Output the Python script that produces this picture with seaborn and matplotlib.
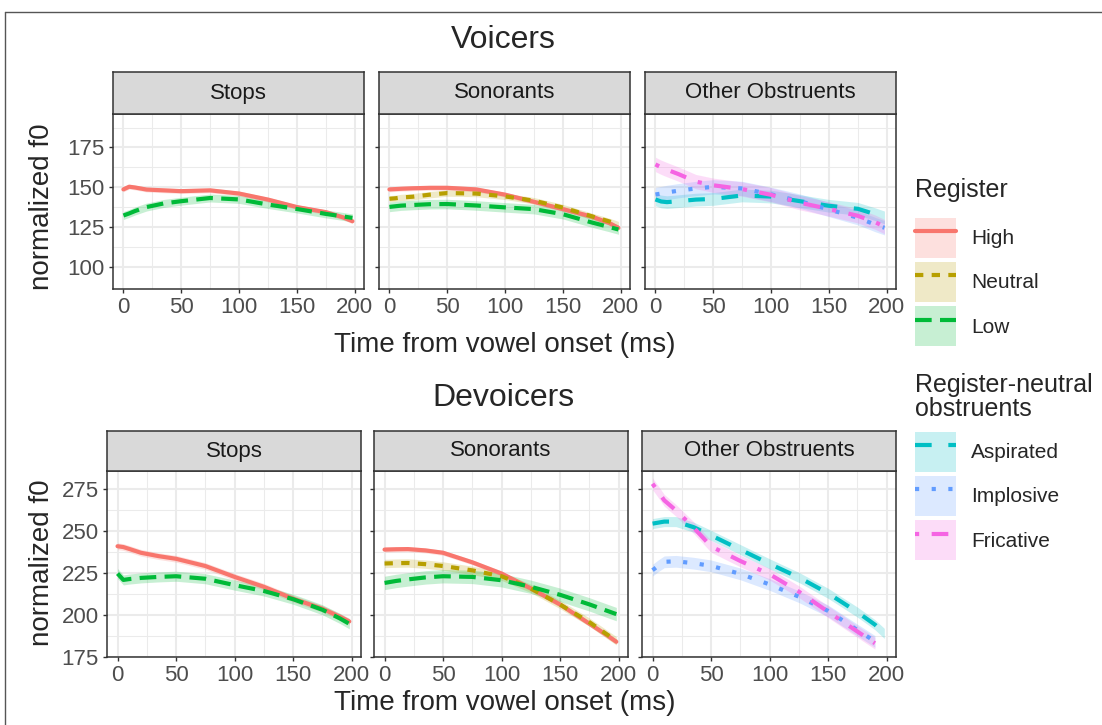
import numpy as np
import pandas as pd
import matplotlib
matplotlib.use('Agg')
import matplotlib.pyplot as plt
from matplotlib.lines import Line2D
from matplotlib.patches import Patch
import seaborn as sns

# ---- data ----
time_ms = [0, 5, 10, 20, 35, 50, 75, 100, 125, 150, 175, 190, 198]

# Voicers
voi_stops_high = [148.6, 150.3, 149.8, 148.5, 148.0, 147.5, 148.0, 146.0, 142.2, 137.5, 134.3, 131.0, 128.6]
voi_stops_low = [132.2, 133.5, 135.0, 137.5, 139.8, 141.2, 143.2, 142.3, 139.1, 136.3, 133.2, 131.6, 130.7]
voi_son_high = [148.6, 148.8, 149.0, 149.3, 149.6, 149.6, 148.6, 145.3, 140.8, 136.2, 131.5, 127.5, 124.4]
voi_son_neutral = [142.7, 143.0, 143.5, 144.0, 145.3, 146.3, 146.0, 144.2, 141.5, 137.2, 131.7, 128.5, 126.5]
voi_son_low = [137.6, 138.0, 138.4, 138.8, 139.3, 139.4, 138.5, 137.3, 136.2, 133.0, 127.8, 125.0, 123.4]
voi_obs_aspirated = [142.3, 141.0, 140.6, 141.2, 142.2, 142.6, 144.8, 144.1, 141.2, 138.3, 136.4, 133.0, 131.0]
voi_obs_implosive = [145.4, 146.0, 146.7, 147.8, 149.2, 150.2, 149.2, 145.5, 141.2, 136.0, 130.8, 126.5, 124.5]
voi_obs_fricative = [164.3, 162.5, 161.0, 158.2, 153.5, 151.2, 148.8, 145.2, 140.2, 136.3, 132.0, 128.0, 125.2]

# Devoicers
dev_stops_high = [241.1, 240.6, 239.5, 237.2, 235.2, 233.6, 229.3, 222.8, 216.9, 209.8, 203.8, 199.0, 196.2]
dev_stops_low = [224.8, 221.0, 221.5, 222.2, 222.8, 223.2, 221.7, 217.9, 214.4, 209.5, 203.2, 198.0, 194.8]
dev_son_high = [239.1, 239.2, 239.3, 239.4, 238.6, 237.2, 231.5, 224.8, 215.9, 206.3, 194.9, 188.0, 184.1]
dev_son_neutral = [230.8, 230.9, 231.0, 231.1, 230.4, 229.3, 226.7, 223.2, 215.9, 206.3, 195.8, 188.5, 184.7]
dev_son_low = [219.2, 219.8, 220.4, 221.3, 222.5, 223.2, 222.8, 220.8, 216.9, 212.1, 206.4, 202.6, 200.6]
dev_obs_aspirated = [254.6, 255.2, 255.8, 255.8, 252.5, 247.6, 239.1, 230.6, 222.5, 213.0, 201.8, 194.3, 189.1]
dev_obs_implosive = [226.8, 229.5, 231.8, 232.1, 231.0, 229.4, 224.6, 218.3, 211.0, 202.5, 191.1, 184.3, np.nan]
dev_obs_fricative = [278.4, 273.5, 268.5, 262.5, 252.3, 241.0, 232.3, 224.4, 214.0, 202.0, 190.2, 183.2, np.nan]

# ribbon half widths (same order as the series in each panel)
band_voi_stops = [1.5, 2.5]
band_voi_son = [1.5, 2.0, 3.0]
band_voi_obs = [4.0, 4.5, 4.5]
band_dev_stops = [2.0, 3.0]
band_dev_son = [1.5, 2.5, 4.0]
band_dev_obs = [3.0, 3.5, 3.5]

groups = ['Voicers', 'Devoicers']
manners = ['Stops', 'Sonorants', 'Other Obstruents']
register_levels = ['High', 'Neutral', 'Low']
obstruent_levels = ['Aspirated', 'Implosive', 'Fricative']

panels = [
    ('Voicers', 'Stops', ['High', 'Low'], [voi_stops_high, voi_stops_low], band_voi_stops),
    ('Voicers', 'Sonorants', ['High', 'Neutral', 'Low'], [voi_son_high, voi_son_neutral, voi_son_low], band_voi_son),
    ('Voicers', 'Other Obstruents', obstruent_levels, [voi_obs_aspirated, voi_obs_implosive, voi_obs_fricative], band_voi_obs),
    ('Devoicers', 'Stops', ['High', 'Low'], [dev_stops_high, dev_stops_low], band_dev_stops),
    ('Devoicers', 'Sonorants', ['High', 'Neutral', 'Low'], [dev_son_high, dev_son_neutral, dev_son_low], band_dev_son),
    ('Devoicers', 'Other Obstruents', obstruent_levels, [dev_obs_aspirated, dev_obs_implosive, dev_obs_fricative], band_dev_obs),
]

rows = []
for g, m, series, vals, bands in panels:
    for s, v, b in zip(series, vals, bands):
        for t, f in zip(time_ms, v):
            rows.append({'group': g, 'manner': m, 'series': s, 'time': t, 'f0': f, 'band': b})
df = pd.DataFrame(rows).dropna()

# ggplot default hue palette for 6 levels
colors = {'High': '#F8766D', 'Neutral': '#B79F00', 'Low': '#00BA38',
          'Aspirated': '#00BFC4', 'Implosive': '#619CFF', 'Fricative': '#F564E3'}
dash_map = {'High': '', 'Neutral': (2, 2), 'Low': (4, 2),
            'Aspirated': (4, 4), 'Implosive': (1, 3), 'Fricative': (1, 3, 4, 3)}

sns.set_style('white')
plt.rcParams['font.family'] = ['Liberation Sans', 'DejaVu Sans']

W, H = 1102, 725
fig = plt.figure(figsize=(W / 100, H / 100), dpi=100)


def px_rect(x0, y0, x1, y1):
    return [x0 / W, 1 - y1 / H, (x1 - x0) / W, (y1 - y0) / H]


LW = 3.0
ALPHA = 0.22
GRID = '#EBEBEB'
DARK = '#333333'

layout = {
    'Voicers': dict(xs=[113, 379, 645], w=251, top=114, bottom=289, strip_top=72,
                    ylim=(86, 196), yticks=[100, 125, 150, 175], yminor=[112.5, 137.5, 162.5, 187.5],
                    title_y=40, xlab_y=345, ylab_y=207),
    'Devoicers': dict(xs=[107, 374, 642], w=254, top=471, bottom=657, strip_top=431,
                      ylim=(175, 286), yticks=[175, 200, 225, 250, 275], yminor=[187.5, 212.5, 237.5, 262.5],
                      title_y=398, xlab_y=703, ylab_y=563),
}

for g in groups:
    L = layout[g]
    for j, m in enumerate(manners):
        x0 = L['xs'][j]
        ax = fig.add_axes(px_rect(x0, L['top'], x0 + L['w'], L['bottom']))
        sub = df[(df['group'] == g) & (df['manner'] == m)]

        # confidence ribbons
        for s, d in sub.groupby('series', sort=False):
            ax.fill_between(d['time'], d['f0'] - d['band'], d['f0'] + d['band'],
                            color=colors[s], alpha=ALPHA, lw=0, zorder=2)
        sns.lineplot(data=sub, x='time', y='f0', hue='series', style='series',
                     palette=colors, dashes=dash_map, linewidth=LW, estimator=None,
                     sort=False, legend=False, ax=ax, zorder=3)

        ax.set_xlim(-9, 208)
        ax.set_ylim(*L['ylim'])
        ax.set_xticks([0, 50, 100, 150, 200])
        ax.set_xticks([25, 75, 125, 175], minor=True)
        ax.set_yticks(L['yticks'])
        ax.set_yticks(L['yminor'], minor=True)
        ax.grid(which='major', color=GRID, lw=1.5, zorder=0)
        ax.grid(which='minor', color=GRID, lw=0.75, zorder=0)
        ax.set_axisbelow(True)
        ax.set_xlabel('')
        ax.set_ylabel('')
        ax.tick_params(which='major', length=3, width=1, color=DARK, labelcolor='#4D4D4D',
                       labelsize=16, pad=3, bottom=True, left=True)
        ax.tick_params(which='minor', length=0)
        if j > 0:
            ax.tick_params(axis='y', labelleft=False)
        for sp in ax.spines.values():
            sp.set_color(DARK)
            sp.set_linewidth(1.1)

        # facet strip
        sax = fig.add_axes(px_rect(x0, L['strip_top'], x0 + L['w'], L['top']))
        sax.set_facecolor('#D9D9D9')
        sax.set_xticks([])
        sax.set_yticks([])
        for sp in sax.spines.values():
            sp.set_color(DARK)
            sp.set_linewidth(1.1)
        sax.text(0.5, 0.5, m, ha='center', va='center', fontsize=16, color='#1A1A1A',
                 transform=sax.transAxes)

    fig.text(503 / W, 1 - L['title_y'] / H, g, ha='center', va='center', fontsize=23)
    fig.text(505 / W, 1 - L['xlab_y'] / H, 'Time from vowel onset (ms)', ha='center',
             va='center', fontsize=20)
    fig.text(42 / W, 1 - L['ylab_y'] / H, 'normalized f0', ha='center', va='center',
             rotation=90, fontsize=20)


# legends: filled key with the line drawn on top
def key(s):
    p = Patch(facecolor=colors[s], alpha=ALPHA, edgecolor='none')
    if dash_map[s] == '':
        ln = Line2D([], [], color=colors[s], lw=LW, ls='-')
    else:
        ln = Line2D([], [], color=colors[s], lw=LW, dashes=dash_map[s])
    return (p, ln)


leg_kw = dict(loc='upper left', frameon=False, fontsize=15,
              handlelength=1.97, handleheight=2.55, labelspacing=0.22,
              handletextpad=0.72, borderpad=0, borderaxespad=0)
leg1 = fig.legend([key(s) for s in register_levels], register_levels,
                  bbox_to_anchor=(915 / W, 1 - 218 / H), **leg_kw)
leg2 = fig.legend([key(s) for s in obstruent_levels], obstruent_levels,
                  bbox_to_anchor=(915 / W, 1 - 432 / H), **leg_kw)
fig.text(915 / W, 1 - 190 / H, 'Register', ha='left', va='center', fontsize=18)
fig.text(915 / W, 1 - 397 / H, 'Register-neutral\nobstruents', ha='left', va='center',
         fontsize=18, linespacing=1.05)

# outer frame (the crop shows only the top and left edges)
fig.add_artist(Line2D([5 / W, 5 / W], [0, 1 - 12 / H], color='#555555', lw=1,
                      transform=fig.transFigure))
fig.add_artist(Line2D([5 / W, 1], [1 - 12 / H, 1 - 12 / H], color='#555555', lw=1,
                      transform=fig.transFigure))

fig.savefig('out.png', dpi=100)
